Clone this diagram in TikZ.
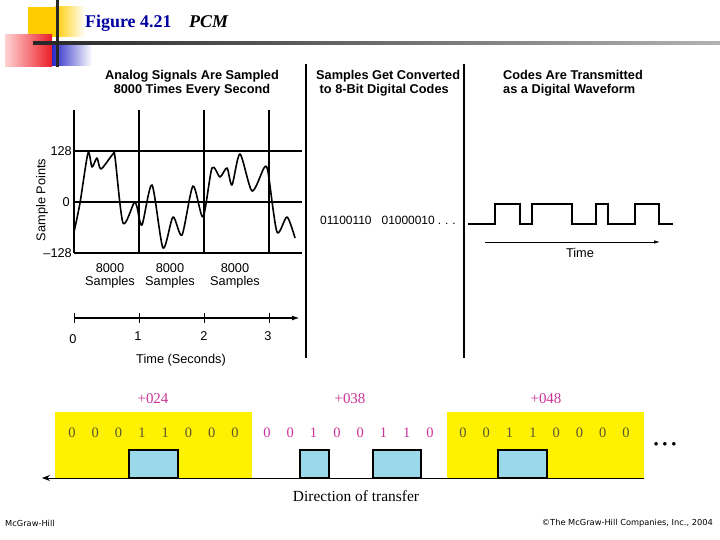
\documentclass[tikz,border=0pt]{standalone}
\usepackage{fontspec}
\setmainfont{Liberation Serif}
\setsansfont{Liberation Sans}
\newfontfamily\footfont{DejaVu Sans}
\usetikzlibrary{arrows.meta}
\definecolor{magentatxt}{RGB}{204,51,153}
\definecolor{olivetxt}{RGB}{90,85,50}
\definecolor{boxblue}{RGB}{153,217,234}
\definecolor{figblue}{RGB}{0,0,160}
\definecolor{decoyellow}{RGB}{255,204,0}
\definecolor{decopink}{RGB}{255,210,210}
\definecolor{decored}{RGB}{235,30,40}
\definecolor{decoblue}{RGB}{40,40,200}
\tikzset{
  grid/.style={line width=1.8pt},
  wave/.style={line width=1.6pt, line join=round},
  sep/.style={line width=2pt},
  hdr/.style={font=\sffamily\bfseries\fontsize{12.8}{14}\selectfont, align=center, inner sep=0pt},
  lbl/.style={font=\sffamily\fontsize{12.8}{12.5}\selectfont, align=center, inner sep=0pt},
  bitA/.style={font=\fontsize{14.5}{16}\selectfont, text=olivetxt, inner sep=0pt},
  bitB/.style={font=\fontsize{14.5}{16}\selectfont, text=magentatxt, inner sep=0pt},
  val/.style={font=\fontsize{15}{16}\selectfont, text=magentatxt, inner sep=0pt},
  bluebox/.style={fill=boxblue, draw=black, line width=2pt},
  foot/.style={font=\footfont\fontsize{8.3}{9}\selectfont, inner sep=0pt}
}
\begin{document}
\begin{tikzpicture}[x=1bp,y=-1bp]
\useasboundingbox (0,0) rectangle (720,540);
\fill[white] (0,0) rectangle (720,540);
% --- decoration top-left
\fill[decoyellow] (28,7) rectangle (55,37);
\shade[left color=decoyellow, right color=white] (55,7) rectangle (85,37);
\shade[left color=decopink, right color=decored] (5,35) rectangle (52,67);
\shade[left color=decoblue, right color=white] (52,45) rectangle (92,66);
\shade[left color=black!85, right color=black!30] (33,41.8) rectangle (720,44.2);
\fill[black!85] (55.7,0) rectangle (58.5,67);
\node[anchor=base west, inner sep=0pt, font=\bfseries\fontsize{18}{20}\selectfont, text=figblue] (figt) at (85,28) {Figure 4.21};
\node[anchor=base west, inner sep=0pt, font=\bfseries\itshape\fontsize{18}{20}\selectfont] (pcm) at (189,28) {PCM};
% --- panel 1
\node[hdr] (h1) at (192,83) {Analog Signals Are Sampled\\8000 Times Every Second};
\foreach \x in {74,139,204,269} \draw[grid] (\x,110) -- (\x,253);
\draw[grid] (74,151) -- (302,151);
\draw[grid] (74,202) -- (302,202);
\draw[grid] (74,253) -- (302,253);
\node[lbl, anchor=east] (y128) at (72,151) {128};
\node[lbl, anchor=east] (y0) at (70,202) {0};
\node[lbl, anchor=east] (ym128) at (72,253) {–128};
\node[lbl, rotate=90] (sp) at (42,200) {Sample Points};
\draw[wave] plot[smooth, tension=0.45] coordinates {(74,232) (80,203) (88,153) (92,167) (97,158) (101,169) (113,154) (115,157) (123,223) (134,203) (137,207) (142,225) (152,185) (163,248) (173,217) (182,235) (193,186) (203,217) (212,168) (220,177) (227,168) (232,185) (240,154) (252,191) (264,168) (268,172) (277,232) (287,217) (295,238)};
\node[lbl] (s1) at (110,276) {8000\\Samples};
\node[lbl] (s2) at (170,276) {8000\\Samples};
\node[lbl] (s3) at (235,276) {8000\\Samples};
\coordinate (t0) at (74,318);
\coordinate (tend) at (300,318);
\draw[line width=1.6pt, -{Latex[length=8pt,width=5pt]}] (t0) -- (tend);
\foreach \x in {74,139,204,269} \draw[line width=1pt] (\x,313) -- (\x,323);
\node[lbl] (n0) at (73,339) {0};
\node[lbl] (n1) at (138,336) {1};
\node[lbl] (n2) at (204,336) {2};
\node[lbl] (n3) at (268,336) {3};
\node[lbl] (ts) at (181,360) {Time (Seconds)};
% separators
\draw[sep] (306,64) -- (306,358);
\draw[sep] (464,64) -- (464,358);
% --- panel 2
\node[hdr, align=left, anchor=west] (h2) at (316,83) {Samples Get Converted\\\ to 8-Bit Digital Codes};
\node[lbl, anchor=west, font=\sffamily\fontsize{12}{12}\selectfont] (codes) at (320,220) {01100110\hspace{10bp}01000010\hspace{3bp}.\hspace{4bp}.\hspace{4bp}.};
% --- panel 3
\node[hdr, align=left, anchor=west] (h3) at (503,83) {Codes Are Transmitted\\as a Digital Waveform};
\draw[line width=1.6pt] (468,224) -- (495,224) -- (495,204) -- (520,204) -- (520,224) -- (532,224) -- (532,204) -- (572,204) -- (572,224) -- (596,224) -- (596,204) -- (608,204) -- (608,224) -- (635,224) -- (635,204) -- (659,204) -- (659,224) -- (673,224);
\coordinate (r0) at (485,242);
\coordinate (r1) at (660,242);
\draw[line width=0.8pt, -{Latex[length=6pt,width=3.5pt]}] (r0) -- (r1);
\node[lbl] (tm) at (580,253) {Time};
% --- bottom
\fill[yellow] (55,412) rectangle (252,478);
\fill[yellow] (447,412) rectangle (644,478);
\node[val] (v1) at (153,399) {+024};
\node[val] (v2) at (350,399) {+038};
\node[val] (v3) at (546,399) {+048};
\foreach \b [count=\i from 0] in {0,0,0,1,1,0,0,0} \node[bitA] at (72+\i*23.3,433) {\b};
\foreach \b [count=\i from 0] in {0,0,1,0,0,1,1,0} \node[bitB] at (267+\i*23.3,433) {\b};
\foreach \b [count=\i from 0] in {0,0,1,1,0,0,0,0} \node[bitA] at (463+\i*23.3,433) {\b};
\node[inner sep=0pt, font=\fontsize{9}{9}\selectfont] (dots) at (665,444) {$\bullet\ \bullet\ \bullet$};
\coordinate (bl) at (42,478);
\coordinate (br) at (644,478);
\draw[line width=0.9pt, {Stealth[length=8pt,width=6pt]}-] (bl) -- (br);
\draw[bluebox] (129,450) rectangle (178,478);
\draw[bluebox] (300,450) rectangle (329,478);
\draw[bluebox] (373,450) rectangle (421,478);
\draw[bluebox] (498,450) rectangle (547,478);
\node[inner sep=0pt, font=\fontsize{15.5}{16}\selectfont] (dir) at (356,496) {Direction of transfer};
% footer
\node[foot, anchor=west] (mh) at (5,523) {McGraw-Hill};
\node[foot, anchor=east] (cp) at (713,523) {©The McGraw-Hill Companies, Inc., 2004};
\end{tikzpicture}
\end{document}
